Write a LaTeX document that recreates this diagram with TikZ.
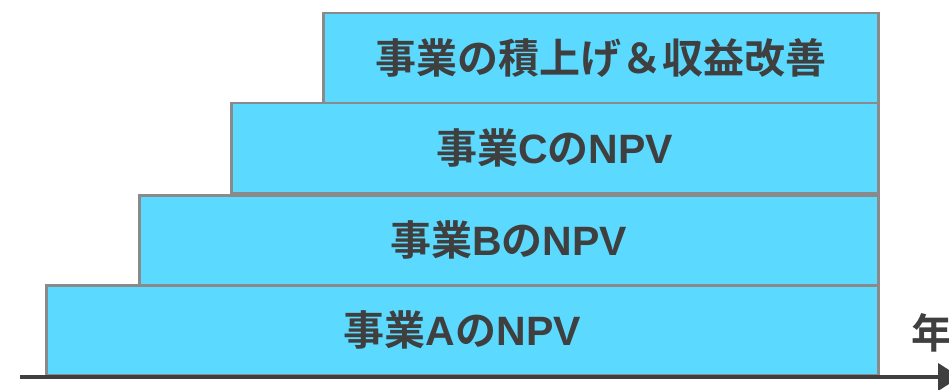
\documentclass[tikz,border=0pt]{standalone}
\usepackage{fontspec}
\newfontfamily\jpfont{Noto Sans CJK JP}[BoldFont={Noto Sans CJK JP Bold}]
\newfontfamily\latfont{Liberation Sans}
\usetikzlibrary{arrows.meta}
\definecolor{layerfill}{HTML}{5BD9FF}
\definecolor{layeredge}{HTML}{8A8A8A}
\definecolor{inkgray}{HTML}{3F3F3F}
\newcommand{\lat}[1]{{\latfont\bfseries #1}}
\tikzset{
    layer/.style={draw=layeredge, line width=2.5pt, fill=layerfill, anchor=north west,
        minimum height=90pt, inner sep=0pt, text=inkgray,
        font=\jpfont\bfseries\fontsize{41}{46}\selectfont},
    axisline/.style={draw=inkgray, line width=4pt, -{Triangle[length=22pt,width=27pt]}}
}
\begin{document}
\begin{tikzpicture}[x=1pt,y=-1pt]
        \useasboundingbox (0,0) rectangle (949,390);
        %% Layers
        \node[layer, minimum width=555pt] (growth) at (322,12) {事業の積上げ＆収益改善};
        \node[layer, minimum width=647pt] (bizC) at (230,102) {事業\lat{C}の\lat{NPV}};
        \node[layer, minimum width=739pt] (bizB) at (138,194) {事業\lat{B}の\lat{NPV}};
        \node[layer, minimum width=832pt] (bizA) at (45,284) {事業\lat{A}の\lat{NPV}};
        %% Axis
        \coordinate (origin) at (20,377);
        \coordinate (tip) at (960,377);
        \draw[axisline] (origin) -- (tip);
        \node[anchor=west, inner sep=0pt, text=inkgray, font=\jpfont\bfseries\fontsize{41}{46}\selectfont] (year) at (911,333) {年};
    \end{tikzpicture}
\end{document}
